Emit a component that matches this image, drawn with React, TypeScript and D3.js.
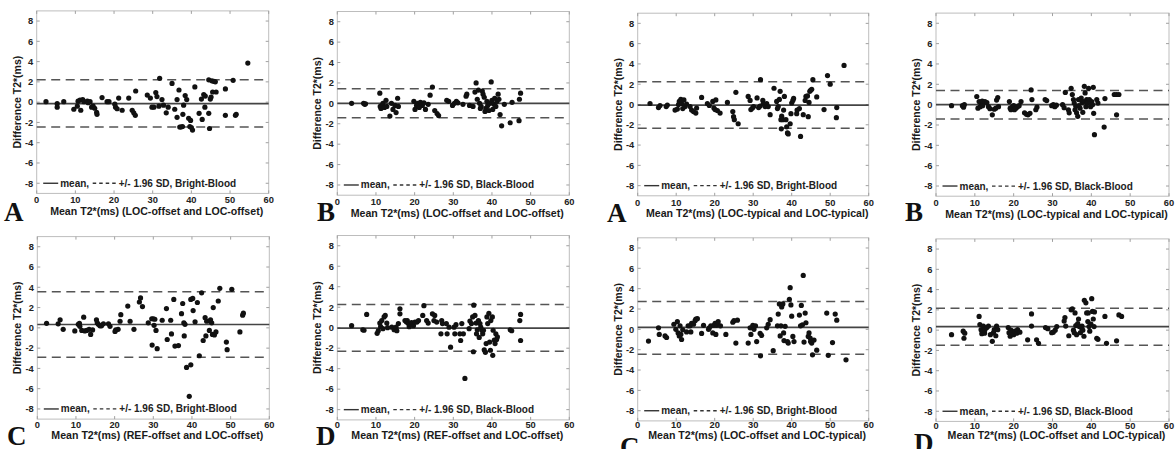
import React, { useEffect, useRef } from 'react';
import * as d3 from 'd3';

type Pt = [number, number];

// [mean T2* (ms), difference T2* (ms)]
const locOffsetBright: Pt[] = [
  [2.4, 0.05], [5.3, -0.15], [5.3, -0.5], [7.0, 0.05], [9.6, -0.7], [10.5, -0.4], [10.7, 0.1], [11.2, 0.2],
  [11.4, -0.8], [11.9, 0.25], [12.2, 0.05], [13.1, 0.1], [13.3, -0.05], [13.8, 0.05], [14.2, -0.5], [14.6, -0.4],
  [15.0, -0.6], [15.5, -1.0], [15.6, -1.2], [16.9, 0.45], [18.2, 0.05], [18.7, 0.05], [20.2, -0.2], [20.4, -0.5],
  [20.8, -0.65], [21.2, 0.4], [22.1, -0.8], [23.8, 0.4], [24.7, -0.8], [25.1, -1.05], [25.5, -1.3], [25.6, 1.1],
  [28.6, 0.7], [29.4, 0.4], [29.8, -0.5], [30.3, -0.5], [30.8, 0.95], [31.1, 0.55], [31.6, -0.4], [31.8, 2.35],
  [32.4, 0.25], [32.8, -0.3], [33.5, -1.05], [34.0, -0.5], [35.0, 1.85], [35.7, -0.7], [36.3, 0.25], [36.3, -1.5],
  [36.8, 1.2], [37.0, -2.45], [37.3, -2.45], [37.7, -2.4], [37.8, -1.2], [38.0, -0.3], [38.4, 0.65], [38.8, 0.25],
  [39.3, -1.6], [39.6, -2.4], [39.8, -1.8], [40.0, -2.5], [40.3, -2.75], [40.9, 1.5], [42.0, -1.1], [42.6, 0.3],
  [42.8, -1.7], [43.2, 0.75], [43.5, -0.5], [43.6, 0.6], [44.5, -1.1], [44.5, 2.2], [44.7, -2.6], [44.9, 0.3],
  [45.1, 0.5], [45.3, 2.1], [45.5, 1.0], [45.8, 2.05], [46.2, 2.0], [46.4, 1.0], [48.8, 1.3], [48.8, -1.3],
  [50.8, 2.15], [51.4, -1.3], [51.6, -1.2], [54.6, 3.85],
];

const locOffsetBlack: Pt[] = [
  [3.7, 0], [6.8, 0], [7.1, -0.1], [7.3, -0.05], [11.0, 1.0], [11.1, -0.3], [11.3, -0.5], [11.6, -0.2],
  [11.8, 0], [12.2, -0.4], [12.6, 0.3], [12.8, -0.3], [13.6, -1.25], [14.0, 0], [14.4, -0.6], [14.9, -0.2],
  [15.2, -0.9], [15.6, 0.5], [15.8, -0.3], [19.8, 0.2], [20.1, -0.6], [20.5, -0.2], [20.8, 0], [21.2, -0.4],
  [21.5, 0.1], [22.0, -0.2], [22.4, 0.05], [22.8, -0.6], [23.5, -0.1], [24.0, 0.8], [24.6, 1.6], [25.2, -0.7],
  [25.8, -1.0], [26.2, -1.2], [28.3, 0.3], [28.8, 0.2], [29.8, -0.2], [30.3, 0], [30.8, 0.2], [31.2, 0.05],
  [32.5, -0.1], [33.3, 0.7], [33.5, 0.9], [34.2, -0.2], [35.1, -0.3], [35.6, 1.1], [35.9, 2.0], [36.2, 0.4],
  [36.5, 1.3], [36.8, 0], [37.0, -0.5], [37.2, -0.3], [37.5, 1.2], [37.7, 0.9], [38.0, 0.6], [38.2, -0.8],
  [38.4, -0.5], [38.7, 0.2], [38.9, -0.2], [39.2, -0.7], [39.5, 0], [39.8, 2.1], [40.0, 0.3], [40.2, -0.6],
  [40.5, -0.1], [40.7, 0.5], [41.0, -0.3], [41.3, 0.2], [41.6, 0.9], [41.8, 0.4], [42.1, -1.1], [42.5, -2.2],
  [43.2, -0.1], [44.7, -1.9], [45.2, 0.1], [47.0, -1.7], [47.1, 0.4], [47.4, 1.0],
];

const locTypicalBright: Pt[] = [
  [3.2, 0.1], [5.4, -0.3], [5.8, -0.1], [7.4, -0.2], [7.7, -0.05], [9.7, -0.55], [10.3, -0.45], [10.6, 0],
  [10.8, 0.3], [11.2, 0.5], [11.4, 0.1], [11.7, -0.4], [12.0, 0.45], [12.3, -0.2], [12.7, 0.05], [13.6, -0.2],
  [14.0, -0.55], [14.5, -0.7], [15.1, -0.85], [15.3, -0.35], [16.6, 0.7], [18.1, 0.1], [18.6, -0.1], [19.5, 0.3],
  [19.8, -0.35], [20.1, -0.5], [20.3, 0.45], [20.7, -0.6], [21.4, -0.85], [23.3, 0.2], [24.7, -0.7], [24.9, -1.2],
  [25.1, -1.5], [25.5, 1.2], [26.1, -1.9], [28.7, 0.8], [29.2, 0.4], [29.4, -0.5], [29.8, -0.35], [30.1, -0.2],
  [31.0, 0.65], [31.4, -0.3], [31.8, -0.15], [31.9, 2.45], [32.5, 0.4], [32.6, 0.05], [33.1, -0.2], [33.5, 0.1],
  [33.9, -0.2], [34.4, -1.0], [35.4, 1.6], [36.1, 0.3], [36.3, -0.4], [36.5, -0.2], [36.8, 0.5], [37.0, 1.3],
  [37.2, -1.5], [37.3, -2.4], [37.4, -1.15], [37.7, -1.5], [37.9, -0.55], [38.1, 0.8], [38.5, -1.5], [38.7, -2.2],
  [38.9, -2.8], [39.1, -2.9], [39.6, -1.9], [39.8, -0.9], [40.0, 0.15], [40.3, 0.4], [40.5, 0.6], [41.3, -0.9],
  [41.4, -0.55], [42.0, -0.4], [42.3, -3.15], [43.0, -1.0], [43.5, 0.4], [43.7, 0.8], [44.1, 0.85], [44.3, -1.2],
  [44.5, 0.2], [44.7, 1.3], [44.9, 1.4], [45.2, 1.5], [45.5, 2.45], [46.5, 0.75], [48.4, -0.5], [49.3, 2.85],
  [50.0, 2.0], [51.7, -0.3], [51.6, -1.3], [53.6, 3.85],
];

const locTypicalBlack: Pt[] = [
  [4.0, -0.1], [6.8, -0.1], [7.1, -0.25], [7.3, 0], [10.5, 0.8], [10.8, -0.35], [11.1, 0.3], [11.4, -0.2],
  [11.7, 0.15], [11.9, 0.35], [12.0, -0.1], [12.6, 0.3], [13.1, 0.2], [13.5, -0.2], [13.9, -0.4], [14.5, -1.0],
  [15.0, -0.45], [15.4, -0.35], [15.6, 0.45], [15.9, 0.7], [16.1, -0.2], [18.9, 0.3], [19.1, -0.35], [19.3, -0.5],
  [19.7, -0.2], [20.0, -0.1], [20.2, -0.5], [20.6, -0.35], [21.0, -0.2], [21.4, -0.1], [21.9, 0.3], [22.8, -0.8],
  [23.3, -0.95], [23.7, -1.0], [24.2, -0.85], [24.5, 1.45], [24.7, 0.5], [25.7, -0.5], [26.0, -0.25], [28.1, 0.5],
  [28.5, 0.4], [29.8, -0.1], [30.2, 0], [30.6, -0.2], [31.0, -0.05], [32.6, 0], [33.0, -0.3], [33.3, 1.2],
  [34.1, -0.5], [34.3, -0.8], [34.8, 1.6], [35.1, 1.0], [35.4, 0.5], [35.6, 0.15], [35.8, -0.5], [36.0, -0.15],
  [36.2, -0.8], [36.5, -1.15], [36.7, 0.5], [36.8, -0.1], [37.1, -0.35], [37.4, 0.65], [37.6, 0.2], [37.8, -0.75],
  [38.0, 0.3], [38.2, 1.8], [38.4, 1.15], [38.6, -0.2], [38.8, 0.5], [39.0, 0.15], [39.3, 1.6], [39.5, 0.5],
  [39.8, -0.2], [40.1, 0.3], [40.3, 0], [40.5, 1.7], [40.6, -0.85], [40.8, -2.95], [41.4, 0.5], [41.7, 0.15],
  [43.3, -2.2], [43.5, 0.6], [45.9, 1.0], [46.5, 1.0], [47.1, 1.0], [46.5, -1.0],
];

const refOffsetBright: Pt[] = [
  [2.4, 0.45], [5.4, 0.4], [5.9, 0.8], [6.7, -0.15], [9.7, -0.3], [10.6, 0.35], [10.9, 0.45], [11.0, 0.15],
  [11.5, -0.25], [12.0, 1.05], [12.3, -0.3], [12.8, -0.25], [13.4, -0.15], [13.8, -0.65], [14.3, -0.2], [15.3, 0.8],
  [15.5, 0.5], [15.8, 0.35], [16.2, 0.2], [16.6, 0.2], [17.1, 0.4], [18.4, 0.4], [18.8, 0.15], [20.1, -0.35],
  [20.3, -0.2], [20.9, -0.15], [21.4, 0.65], [21.6, 1.3], [23.4, 2.15], [24.0, 0.65], [25.0, -0.15], [26.4, 2.55],
  [26.7, 2.95], [27.2, 2.1], [28.7, 0.5], [29.6, 0.9], [29.7, -1.7], [30.0, 0.9], [30.2, 0.25], [30.4, 0.85],
  [30.7, -0.25], [31.0, -2.05], [32.3, 0.75], [33.4, 1.9], [33.6, -1.15], [34.5, 0.75], [34.7, -0.6], [35.3, 2.8],
  [35.6, -1.8], [36.5, -1.75], [37.3, 1.4], [37.6, 2.4], [37.9, 0.5], [38.0, -0.8], [38.2, 0.35], [38.6, -3.9],
  [39.3, -6.75], [39.7, -3.65], [39.7, 2.8], [40.2, 2.9], [40.3, 1.7], [40.8, 0.6], [41.4, 2.5], [41.9, -2.75],
  [42.5, 3.45], [42.9, -1.25], [43.4, 1.0], [43.6, -0.8], [43.8, 0.65], [44.5, -0.25], [44.7, 0.65], [44.8, 0.8],
  [45.1, 0.5], [45.3, -0.65], [45.5, 2.0], [45.8, -0.7], [46.2, -0.4], [46.8, 2.65], [47.2, 3.9], [48.9, -1.4],
  [49.1, -2.15], [50.3, 3.8], [52.4, -0.4], [53.1, 1.25], [53.3, 1.45],
];

const refOffsetBlack: Pt[] = [
  [3.7, 0.2], [6.6, -0.2], [6.9, -0.25], [7.6, 1.3], [10.3, -0.55], [10.6, -0.3], [11.0, 0.45], [11.2, 0.1],
  [11.5, 0.7], [11.8, -0.1], [12.1, 1.05], [12.4, 1.2], [12.8, 0.45], [13.0, 0], [14.1, 0.05], [14.7, -0.2],
  [15.2, 0.05], [15.4, -0.3], [15.8, 0.4], [16.2, 1.85], [16.2, 1.35], [17.5, 0.7], [17.9, 0.55], [18.1, 0.7],
  [18.4, 0.4], [18.6, 0.1], [19.0, 0.3], [19.2, 0.5], [19.7, 0.2], [20.1, 0.55], [20.6, 0.55], [21.0, 0.7],
  [22.1, 1.2], [22.4, 2.15], [23.1, 0.7], [23.5, 0.45], [24.6, 1.35], [25.0, 0.7], [25.2, 1.2], [25.7, 0.55],
  [26.8, -0.6], [27.0, 0.7], [27.2, 0.4], [28.2, 0.4], [28.4, -0.6], [28.9, 0.05], [29.3, -1.9], [30.2, 0.05],
  [30.4, -0.6], [30.7, 0.3], [31.7, -0.6], [31.9, -1.25], [32.2, 0.4], [32.6, -0.6], [33.0, -4.95], [34.1, -0.1],
  [34.3, 0.65], [34.7, 0.4], [35.0, 1.05], [35.2, -2.35], [35.3, 2.2], [35.6, 1.2], [35.9, 0.45], [36.0, -0.6],
  [36.2, -0.2], [36.5, 0.7], [36.7, -0.95], [36.9, 0.4], [37.1, 0.05], [37.4, -0.25], [37.6, -0.6], [37.8, -0.25],
  [38.0, -2.15], [38.3, -2.4], [38.5, -1.55], [38.7, 1.05], [38.9, 0.4], [39.2, 1.4], [39.4, -1.4], [39.6, -2.2],
  [39.7, 0.7], [40.1, 1.05], [40.2, -2.7], [40.3, -0.25], [40.6, -1.2], [40.8, -1.55], [41.0, -0.6], [41.2, -1.15],
  [41.4, -0.9], [44.7, -0.2], [45.1, -0.3], [47.2, 0.7], [47.4, 1.3], [47.4, -1.25],
];

const offsetTypicalBright: Pt[] = [
  [2.8, -1.15], [5.4, 0.15], [5.6, -0.5], [7.1, -0.65], [7.5, -0.8], [9.4, 0.5], [9.9, 0], [10.3, 0.75],
  [10.5, -0.35], [10.8, -0.65], [11.0, 0.35], [11.2, -0.5], [11.4, -1.0], [11.7, -0.05], [12.7, -0.25], [13.1, 0.35],
  [13.6, 0.35], [13.8, -0.25], [14.0, 0.6], [14.5, 0.5], [14.9, 0.85], [15.1, 1.0], [15.5, 1.05], [16.6, -0.4],
  [17.1, 0.4], [18.4, 0], [18.6, 0.15], [19.0, 0.35], [19.5, -0.35], [19.8, 0.4], [20.1, 0.6], [20.3, -0.5],
  [20.5, 0.4], [20.9, 0.75], [21.5, 0.35], [22.9, -0.5], [24.7, 0.7], [25.0, 0.85], [25.5, -1.35], [25.9, 0.9],
  [28.7, -1.35], [29.2, 0.15], [29.4, -0.5], [29.9, 0.4], [30.2, 0], [30.6, 0.35], [30.9, -1.2], [31.8, -0.4],
  [31.9, -2.6], [32.2, -0.6], [33.5, 0.15], [33.9, 0.5], [34.4, 0.95], [35.2, -2.1], [36.3, 0.35], [36.5, 1.5],
  [36.8, 2.5], [37.0, -0.65], [37.2, 0.35], [37.4, 2.2], [37.7, 2.5], [37.9, -0.35], [38.0, -1.1], [38.3, 0.3],
  [38.9, -1.2], [39.1, -1.35], [39.4, 2.95], [39.6, 4.1], [39.8, 2.4], [40.0, 1.3], [40.3, -0.7], [40.6, -1.2],
  [42.0, 1.4], [42.3, 0.35], [42.5, 2.35], [42.8, 0.45], [43.0, 5.3], [43.2, -1.25], [43.5, 1.6], [43.7, 0.65],
  [44.3, -0.7], [44.5, -0.35], [44.8, -0.85], [44.9, -1.2], [45.2, -1.35], [45.4, -2.5], [45.8, -1.05], [46.5, -2.05],
  [49.1, 1.6], [49.5, -2.55], [50.6, -1.3], [51.3, 1.5], [51.7, 0.9], [54.1, -3.0],
];

const offsetTypicalBlack: Pt[] = [
  [4.0, -0.45], [7.0, -0.1], [7.2, -0.8], [7.4, -0.3], [11.1, 1.35], [11.3, 0.55], [11.6, 0.05], [11.8, -0.35],
  [12.0, -0.2], [12.2, 0.4], [12.5, -0.3], [12.6, 0.05], [13.1, 0.25], [13.5, 0.4], [14.0, -0.45], [14.5, -1.1],
  [14.8, -0.25], [15.0, 0.05], [15.4, -0.55], [15.6, 0.4], [15.9, 0.05], [18.6, 0.25], [18.8, -0.25], [19.1, -0.6],
  [19.3, 0], [19.5, -0.2], [20.0, -0.45], [20.3, -0.1], [20.8, -0.3], [21.0, 0.05], [21.6, -0.2], [23.6, -0.95],
  [24.6, 1.6], [24.6, 0.4], [25.9, -0.95], [26.4, -1.3], [28.2, 0.25], [28.8, 0.15], [29.8, -0.25], [30.2, -0.2],
  [30.7, 0], [31.1, 0.35], [33.0, 0.9], [33.2, 1.25], [33.4, 0.4], [34.2, -0.55], [34.8, 2.0], [35.1, 2.1],
  [35.4, 0], [35.6, -0.25], [35.8, 1.7], [36.0, 0.45], [36.2, -0.45], [36.5, 0.65], [36.7, 1.1], [36.9, 0.35],
  [37.2, -0.25], [37.5, 0.2], [37.6, 0.4], [37.8, 0], [38.1, -0.6], [38.2, 2.95], [38.6, 2.7], [38.8, 1.7],
  [39.1, 0.85], [39.2, 1.7], [39.4, 0.35], [39.6, -0.1], [39.9, 0.6], [40.1, 3.1], [40.3, 1.85], [40.5, 1.1],
  [40.7, 0.35], [40.8, 1.8], [41.4, -0.8], [41.7, -0.9], [43.5, 1.35], [43.9, -1.3], [46.5, -1.05], [47.1, 1.5],
  [47.8, 1.35],
];

// bias and +/- 1.96 SD limits of agreement, per panel
const meanDiffs = [-0.15, 0, -0.07, 0, 0.33, -0.05, 0.2, 0.35];
const upperLimits = [2.2, 1.42, 2.25, 1.4, 3.55, 2.27, 2.75, 2.15];
const lowerLimits = [-2.45, -1.4, -2.35, -1.4, -2.9, -2.3, -2.45, -1.5];

const panelLetters = ['A', 'B', 'A', 'B', 'C', 'D', 'C', 'D'];
const pairNames = [
  'LOC-offset and LOC-offset', 'LOC-offset and LOC-offset',
  'LOC-typical and LOC-typical', 'LOC-typical and LOC-typical',
  'REF-offset and LOC-offset', 'REF-offset and LOC-offset',
  'LOC-offset and LOC-typical', 'LOC-offset and LOC-typical',
];
const bloodTypes = ['Bright-Blood', 'Black-Blood', 'Bright-Blood', 'Black-Blood',
  'Bright-Blood', 'Black-Blood', 'Bright-Blood', 'Black-Blood'];
const panelData = [locOffsetBright, locOffsetBlack, locTypicalBright, locTypicalBlack,
  refOffsetBright, refOffsetBlack, offsetTypicalBright, offsetTypicalBlack];

const xTicks = [0, 10, 20, 30, 40, 50, 60];
const yTicks = [-8, -6, -4, -2, 0, 2, 4, 6, 8];

// layout: plot box [left, right, top, bottom], letter [x, baseline], gaps below box
const boxes = [
  [36.7, 268.7, 10.9, 193.4], [337.3, 569.3, 11.5, 195.2], [637.7, 868.7, 13.2, 195.8], [936, 1169, 13.1, 196.2],
  [37.3, 269.3, 236.6, 419.1], [337.3, 569.3, 235.5, 419.9], [637.7, 868.7, 237.8, 420.9], [936, 1169, 238.9, 421.4],
];
const letterPos = [[4, 221], [317, 221], [607, 222], [905, 221], [7, 445], [316, 445], [620, 456], [914, 452]];
const tickGap = [10, 10, 10, 10, 8.5, 8, 7.5, 7.2];
const titleGap = [22, 22, 21.5, 21.5, 19.5, 19, 18.3, 18];

const W = 1175;
const H = 449;
const sans = '"Liberation Sans", Arial, sans-serif';

const App = () => {
  const ref = useRef<SVGSVGElement>(null);

  useEffect(() => {
    const svg = d3.select(ref.current);
    svg.selectAll('*').remove();

    panelData.forEach((pts, i) => {
      const [l, r, t, b] = boxes[i];
      const x = d3.scaleLinear().domain([0, 60]).range([l, r]);
      const y = d3.scaleLinear().domain([-9, 9]).range([b, t]);
      const g = svg.append('g');

      // frame
      g.append('rect')
        .attr('x', l).attr('y', t).attr('width', r - l).attr('height', b - t)
        .attr('fill', 'white').attr('stroke', '#bdbdbd').attr('stroke-width', 1);

      // inward ticks on all four sides
      xTicks.forEach(v => {
        g.append('line').attr('x1', x(v)).attr('x2', x(v)).attr('y1', b).attr('y2', b - 3).attr('stroke', '#a0a0a0');
        g.append('line').attr('x1', x(v)).attr('x2', x(v)).attr('y1', t).attr('y2', t + 3).attr('stroke', '#a0a0a0');
      });
      yTicks.forEach(v => {
        g.append('line').attr('x1', l).attr('x2', l + 3).attr('y1', y(v)).attr('y2', y(v)).attr('stroke', '#a0a0a0');
        g.append('line').attr('x1', r).attr('x2', r - 3).attr('y1', y(v)).attr('y2', y(v)).attr('stroke', '#a0a0a0');
      });

      // tick labels
      g.selectAll('.xt').data(xTicks).enter().append('text')
        .attr('x', d => x(d)).attr('y', b + tickGap[i])
        .attr('text-anchor', 'middle').attr('font-size', 9.3).attr('font-weight', 'bold')
        .attr('font-family', sans).attr('fill', '#222')
        .text(d => d);
      g.selectAll('.yt').data(yTicks).enter().append('text')
        .attr('x', l - 3.5).attr('y', d => y(d) + 3.3)
        .attr('text-anchor', 'end').attr('font-size', 9.3).attr('font-weight', 'bold')
        .attr('font-family', sans).attr('fill', '#222')
        .text(d => d);

      // limits of agreement and bias
      [upperLimits[i], lowerLimits[i]].forEach(v => {
        g.append('line')
          .attr('x1', l).attr('x2', r).attr('y1', y(v)).attr('y2', y(v))
          .attr('stroke', '#555').attr('stroke-width', 1.5).attr('stroke-dasharray', '9,5.5');
      });
      g.append('line')
        .attr('x1', l).attr('x2', r).attr('y1', y(meanDiffs[i])).attr('y2', y(meanDiffs[i]))
        .attr('stroke', '#444').attr('stroke-width', 1.7);

      // points
      g.selectAll('circle').data(pts).enter().append('circle')
        .attr('cx', d => x(d[0])).attr('cy', d => y(d[1])).attr('r', 2.6)
        .attr('fill', '#111');

      // legend inside the box, on the -8 row
      const ly = y(-8);
      g.append('line').attr('x1', l + 6.5).attr('x2', l + 21.5).attr('y1', ly).attr('y2', ly)
        .attr('stroke', '#333').attr('stroke-width', 1.4);
      g.append('text').attr('x', l + 23.5).attr('y', ly + 3.5)
        .attr('font-size', 10).attr('font-weight', 'bold').attr('font-family', sans).attr('fill', '#222')
        .text('mean,');
      g.append('line').attr('x1', l + 56).attr('x2', l + 80).attr('y1', ly).attr('y2', ly)
        .attr('stroke', '#333').attr('stroke-width', 1.3).attr('stroke-dasharray', '3.5,3');
      g.append('text').attr('x', l + 82).attr('y', ly + 3.5)
        .attr('font-size', 10).attr('font-weight', 'bold').attr('font-family', sans).attr('fill', '#222')
        .text(`+/- 1.96 SD, ${bloodTypes[i]}`);

      // axis titles
      g.append('text')
        .attr('x', (l + r) / 2 + 4).attr('y', b + titleGap[i])
        .attr('text-anchor', 'middle').attr('font-size', 10.6).attr('font-weight', 'bold')
        .attr('font-family', sans).attr('fill', '#1a1a1a')
        .text(`Mean T2*(ms) (${pairNames[i]})`);
      g.append('text')
        .attr('transform', `translate(${l - 16},${(t + b) / 2}) rotate(-90)`)
        .attr('text-anchor', 'middle').attr('font-size', 10.5).attr('font-weight', 'bold')
        .attr('font-family', sans).attr('fill', '#1a1a1a')
        .text('Difference T2*(ms)');

      // panel letter
      g.append('text')
        .attr('x', letterPos[i][0]).attr('y', letterPos[i][1])
        .attr('font-size', 27).attr('font-weight', 'bold')
        .attr('font-family', '"Liberation Serif", "Times New Roman", serif')
        .attr('fill', '#111')
        .text(panelLetters[i]);
    });

    return () => {
      d3.select(ref.current).selectAll('*').remove();
    };
  }, []);

  return (
    <svg ref={ref} width={W} height={H}
      style={{ position: 'absolute', left: 0, top: 0, background: 'white' }} />
  );
};

export default App;
